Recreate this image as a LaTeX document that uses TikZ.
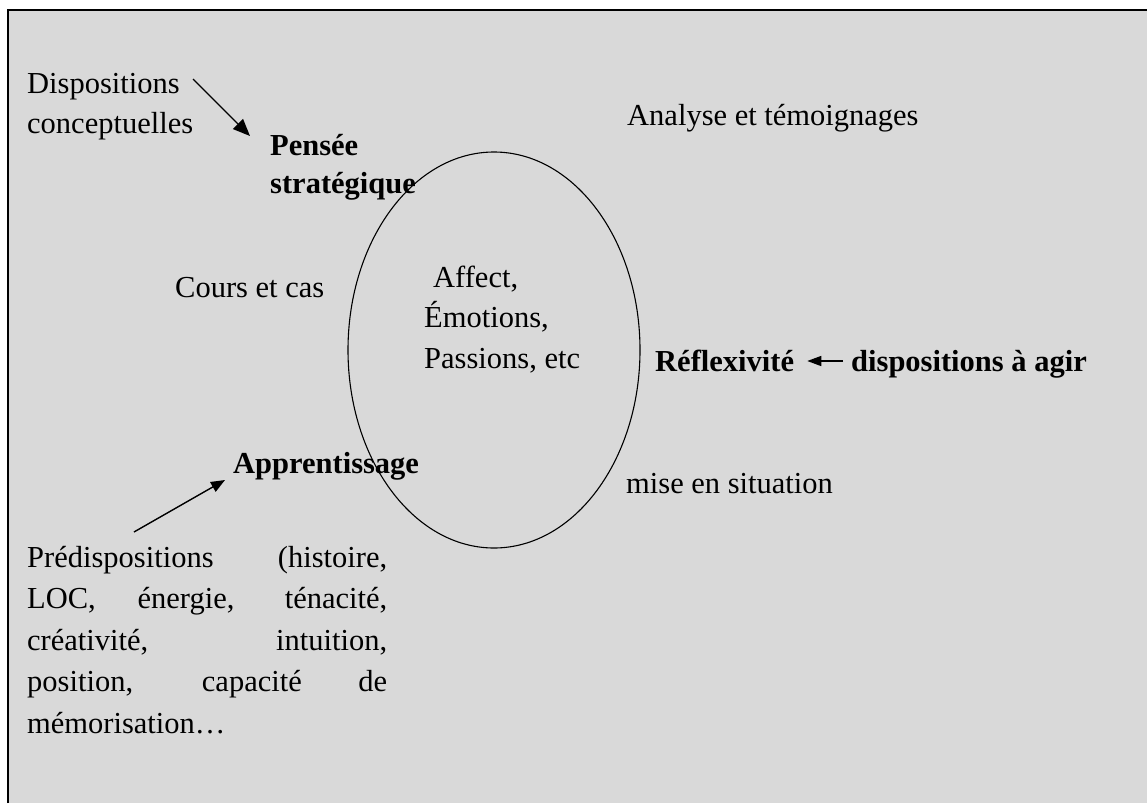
\documentclass[tikz,border=0pt]{standalone}
\usepackage{fontspec}
\setmainfont{Liberation Serif}
\usepackage{tikz}
\usetikzlibrary{arrows.meta}
\definecolor{panel}{HTML}{D9D9D9}

\begin{document}
\begin{tikzpicture}[x=1pt, y=-1pt,
		txt/.style={inner sep=0pt, anchor=base west, align=left, font=\fontsize{30.5}{40}\selectfont},
		strong/.style={txt, font=\fontsize{30.5}{38}\selectfont\bfseries},
		pointer/.style={line width=1.4pt, -{Triangle[length=14pt, width=11pt]}}]
		\useasboundingbox (0, 0) rectangle (1147, 803);
		% draw panel
		\fill [panel] (8, 10) rectangle (1147, 803);
		\draw [line width=2pt] (8, 803) -- (8, 10) -- (1147, 10);
		% draw ellipse
		\draw [line width=1.1pt] (494, 350) ellipse [x radius=146, y radius=198];
		% draw labels (base = last line)
		\node [txt] (disp) at (27, 133) {Dispositions\\conceptuelles};
		\node [strong] (pensee) at (270, 193) {Pensée\\stratégique};
		\node [txt] (analyse) at (627, 125) {Analyse et témoignages};
		\node [txt] (cours) at (175, 297) {Cours et cas};
		\node [txt, font=\fontsize{30.5}{40.5}\selectfont] (affect) at (424, 368) {\hspace*{9pt}Affect,\\Émotions,\\Passions, etc};
		\node [strong] (reflex) at (655, 371) {Réflexivité};
		\node [strong] (agir) at (851, 371) {dispositions à agir};
		\node [txt] (situation) at (626, 493) {mise en situation};
		\node [strong] (appr) at (233, 473) {Apprentissage};
		% draw paragraph
		\node [txt, font=\fontsize{30.5}{41.5}\selectfont] (pred) at (27, 733) {%
			\makebox[360pt][s]{Prédispositions (histoire,}\\
			\makebox[360pt][s]{LOC, énergie, ténacité,}\\
			\makebox[360pt][s]{créativité, intuition,}\\
			\makebox[360pt][s]{position, capacité de}\\
			mémorisation…};
		% draw arrows
		\draw [pointer, -{Triangle[length=17pt, width=14pt]}] ([shift={(166, -54)}]disp.base west) -- ([shift={(-20, -57)}]pensee.base west);
		\draw [pointer, -{Triangle[length=14pt, width=10pt]}] ([shift={(-8, -10)}]agir.base west) -- ([shift={(13, -10)}]reflex.base east);
		\draw [pointer] ([shift={(107, -201)}]pred.base west) -- ([shift={(-8, 7)}]appr.base west);
	\end{tikzpicture}
\end{document}
